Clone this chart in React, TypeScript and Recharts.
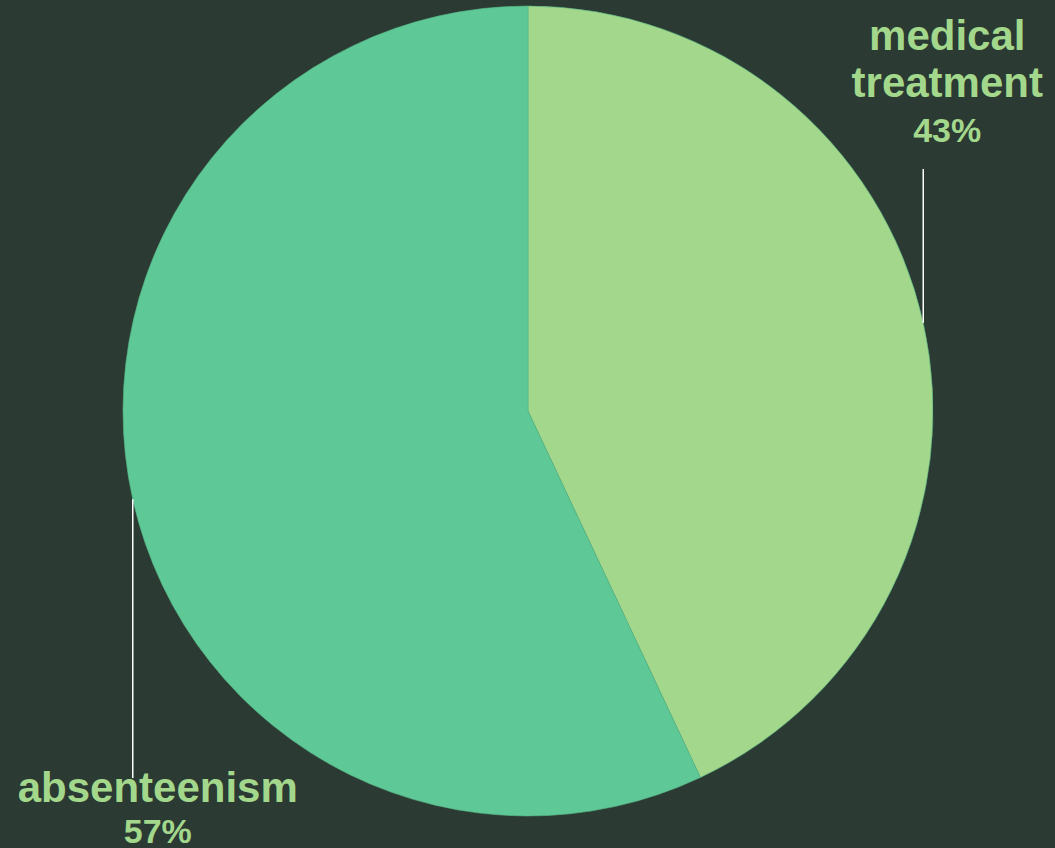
import { PieChart, Pie, Cell } from 'recharts';

const categories = ['medical treatment', 'absenteenism'];
const shares = [43, 57];
const labelLines = [['medical', 'treatment'], ['absenteenism']];
const colors = ['#a3d78b', '#5ec896'];

const data = categories.map((name, i) => ({ name, value: shares[i], lines: labelLines[i] }));

const RADIAN = Math.PI / 180;

const renderLabel = (props: any) => {
  const { cx, cy, outerRadius, midAngle, index, payload } = props;
  const x = cx + outerRadius * Math.cos(-midAngle * RADIAN);
  const y = cy + outerRadius * Math.sin(-midAngle * RADIAN);
  const top = y < cy;
  const lines: string[] = payload.lines;
  const pct = `${shares[index]}%`;
  if (top) {
    const endY = cy - 242;
    const tx = x + 24;
    return (
      <g>
        <line x1={x} y1={y} x2={x} y2={endY} stroke="#ffffff" strokeWidth={1.5} />
        <text textAnchor="middle" fill="#a3d78b" fontFamily="'Liberation Sans', Arial, sans-serif" fontWeight="bold">
          {lines.map((l, i) => (
            <tspan key={i} x={tx} y={endY - 119 + i * 47} fontSize={42}>{l}</tspan>
          ))}
          <tspan x={tx} y={endY - 27} fontSize={34}>{pct}</tspan>
        </text>
      </g>
    );
  }
  const endY = cy + 367;
  const tx = x + 25;
  return (
    <g>
      <line x1={x} y1={y} x2={x} y2={endY} stroke="#ffffff" strokeWidth={1.5} />
      <text textAnchor="middle" fill="#a3d78b" fontFamily="'Liberation Sans', Arial, sans-serif" fontWeight="bold">
        {lines.map((l, i) => (
          <tspan key={i} x={tx} y={endY + 24 + i * 47} fontSize={42}>{l}</tspan>
        ))}
        <tspan x={tx} y={endY + 65} fontSize={34}>{pct}</tspan>
      </text>
    </g>
  );
};

export default function App() {
  return (
    <div style={{ position: 'absolute', left: 0, top: 0, width: 1055, height: 848, background: '#2b3a33' }}>
      <style>{`.recharts-pie-sectors, .pie-shadow { filter: drop-shadow(2px 3px 5px rgba(0,0,0,0.45)); }`}</style>
      <PieChart width={1055} height={848} margin={{ top: 0, right: 0, bottom: 0, left: 0 }}>
        <Pie
          data={data}
          dataKey="value"
          nameKey="name"
          cx={528}
          cy={411}
          outerRadius={405}
          startAngle={90}
          endAngle={-270}
          stroke="#55b585"
          strokeWidth={0.6}
          label={renderLabel}
          labelLine={false}
          isAnimationActive={false}
        >
          {data.map((d, i) => (
            <Cell key={d.name} fill={colors[i]} />
          ))}
        </Pie>
      </PieChart>
    </div>
  );
}
